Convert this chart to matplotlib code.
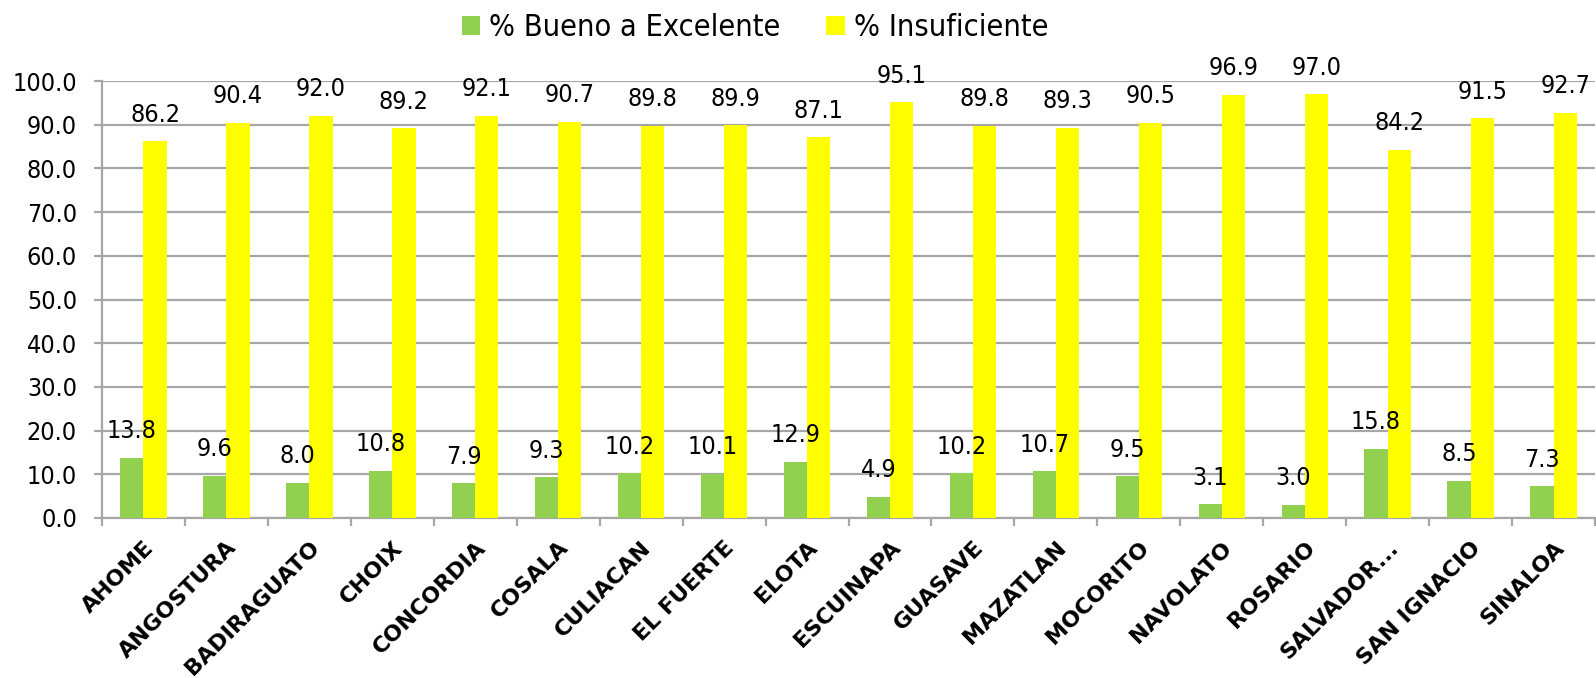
import matplotlib.pyplot as plt
import numpy as np

municipios = ['AHOME', 'ANGOSTURA', 'BADIRAGUATO', 'CHOIX', 'CONCORDIA', 'COSALA',
              'CULIACAN', 'EL FUERTE', 'ELOTA', 'ESCUINAPA', 'GUASAVE', 'MAZATLAN',
              'MOCORITO', 'NAVOLATO', 'ROSARIO', 'SALVADOR...', 'SAN IGNACIO', 'SINALOA']
bueno = [13.8, 9.6, 8.0, 10.8, 7.9, 9.3, 10.2, 10.1, 12.9, 4.9, 10.2, 10.7,
         9.5, 3.1, 3.0, 15.8, 8.5, 7.3]
insuficiente = [86.2, 90.4, 92.0, 89.2, 92.1, 90.7, 89.8, 89.9, 87.1, 95.1, 89.8, 89.3,
                90.5, 96.9, 97.0, 84.2, 91.5, 92.7]

green = '#92D050'
yellow = '#FFFF00'
grey = '#a6a6a6'

fig = plt.figure(figsize=(15.96, 6.78), dpi=100)
ax = fig.add_axes([0.0639, 0.236, 0.9355, 0.6445])

x = np.arange(len(municipios))
w = 0.28
b1 = ax.bar(x - w / 2, bueno, w, color=green, label='% Bueno a Excelente', zorder=3)
b2 = ax.bar(x + w / 2, insuficiente, w, color=yellow, label='% Insuficiente', zorder=3)

# etiquetas de valor sobre cada barra
for bars, vals in ((b1, bueno), (b2, insuficiente)):
    for r, v in zip(bars, vals):
        ax.annotate(f'{v:.1f}', (r.get_x() + r.get_width() / 2, v),
                    xytext=(0, 10.5), textcoords='offset points',
                    ha='center', va='bottom', fontsize=18, fontstretch='condensed', zorder=4)

ax.set_xlim(-0.5, len(municipios) - 0.5)
ax.set_ylim(0, 100)
ax.set_yticks(np.arange(0, 101, 10))
ax.set_yticklabels([f'{t:.1f}' for t in np.arange(0, 101, 10)], fontstretch='condensed', fontsize=18)
ax.yaxis.grid(True, color=grey, linewidth=1.6, zorder=0)

ax.set_xticks(x)
ax.set_xticklabels(municipios, rotation=45, ha='right', rotation_mode='anchor',
                   fontsize=16, fontweight='bold')
ax.tick_params(axis='x', which='major', length=0, pad=14)
ax.set_xticks(np.arange(-0.5, len(municipios)), minor=True)
ax.tick_params(axis='x', which='minor', length=6, width=1.6, color=grey)
ax.tick_params(axis='y', length=6, width=1.6, color=grey, pad=12)

for s in ('top', 'right'):
    ax.spines[s].set_visible(False)
for s in ('left', 'bottom'):
    ax.spines[s].set_color(grey)
    ax.spines[s].set_linewidth(1.6)

fig.legend(handles=[b1, b2], loc='center', bbox_to_anchor=(0.473, 0.959), ncol=2,
           frameon=False, prop={'size': 22, 'stretch': 'condensed'},
           handlelength=0.6, handleheight=0.6, handletextpad=0.3, columnspacing=1.5)

fig.savefig('out.png', dpi=100)
